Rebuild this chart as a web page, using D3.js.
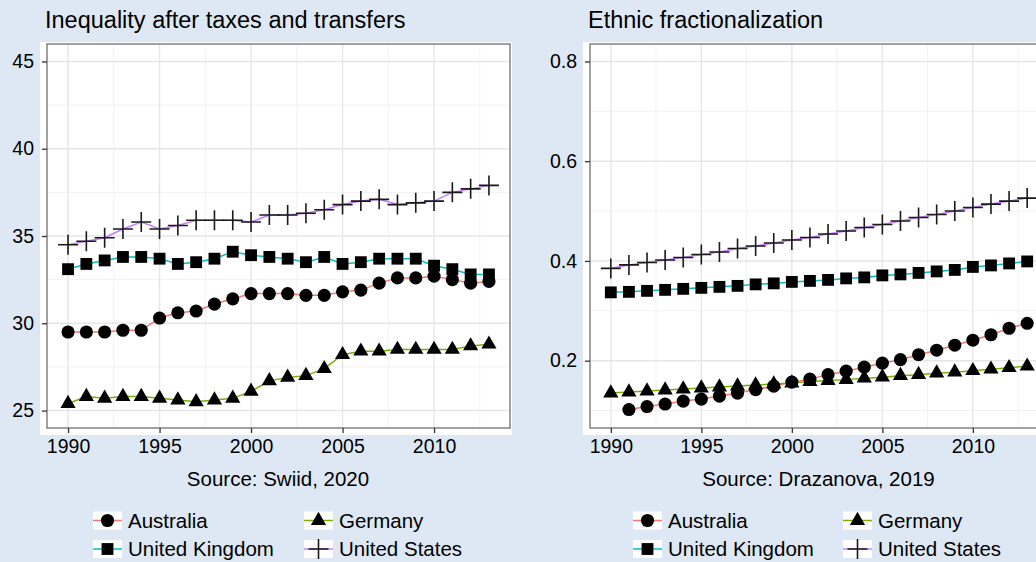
<!DOCTYPE html>
<html>
<head>
<meta charset="utf-8">
<script src="https://cdn.jsdelivr.net/npm/d3@7"></script>
<style>
  html, body { margin: 0; padding: 0; background: #dde8f4; }
  svg { display: block; font-family: "Liberation Sans", Arial, Helvetica, sans-serif; }
</style>
</head>
<body>
<svg id="chart" width="1036" height="562"></svg>
<script>
// ---------------- DATA ----------------
const years = [1990,1991,1992,1993,1994,1995,1996,1997,1998,1999,2000,2001,2002,2003,2004,2005,2006,2007,2008,2009,2010,2011,2012,2013];
const countries = ["Australia", "Germany", "United Kingdom", "United States"];

// Inequality after taxes and transfers (Gini, SWIID)
const ineqAustralia = [29.5,29.5,29.5,29.6,29.6,30.3,30.6,30.7,31.1,31.4,31.7,31.7,31.7,31.6,31.6,31.8,31.9,32.3,32.6,32.6,32.7,32.5,32.3,32.4];
const ineqGermany   = [25.4,25.8,25.7,25.8,25.8,25.7,25.6,25.5,25.6,25.7,26.1,26.7,26.9,27.0,27.4,28.2,28.4,28.4,28.5,28.5,28.5,28.5,28.7,28.8];
const ineqUK        = [33.1,33.4,33.6,33.8,33.8,33.7,33.4,33.5,33.7,34.1,33.9,33.8,33.7,33.5,33.8,33.4,33.5,33.7,33.7,33.7,33.3,33.1,32.8,32.8];
const ineqUS        = [34.5,34.7,34.9,35.4,35.8,35.4,35.6,35.9,35.9,35.9,35.8,36.2,36.2,36.3,36.5,36.8,37.0,37.1,36.8,36.9,37.0,37.5,37.7,37.9];

// Ethnic fractionalization (Drazanova)
const ethAustralia = [null,0.102,0.108,0.113,0.119,0.123,0.129,0.135,0.142,0.149,0.157,0.163,0.172,0.179,0.187,0.195,0.202,0.212,0.221,0.231,0.241,0.252,0.265,0.275];
const ethGermany   = [0.135,0.137,0.139,0.141,0.143,0.145,0.147,0.149,0.151,0.153,0.155,0.158,0.160,0.162,0.165,0.167,0.170,0.172,0.175,0.177,0.180,0.183,0.186,0.189];
const ethUK        = [0.337,0.338,0.340,0.342,0.344,0.346,0.348,0.350,0.353,0.355,0.358,0.360,0.362,0.365,0.367,0.371,0.373,0.376,0.379,0.382,0.388,0.391,0.395,0.399];
const ethUS        = [0.385,0.392,0.397,0.402,0.407,0.413,0.418,0.425,0.430,0.436,0.442,0.447,0.454,0.460,0.467,0.473,0.480,0.487,0.493,0.500,0.507,0.514,0.520,0.526];

const yearTicks = [1990,1995,2000,2005,2010];
const yearMinor = [1992.5,1997.5,2002.5,2007.5,2012.5];
const ineqTicks = [25,30,35,40,45];
const ineqMinor = [27.5,32.5,37.5,42.5];
const ethTicks  = [0.2,0.4,0.6,0.8];
const ethMinor  = [0.1,0.3,0.5,0.7];

const titles  = ["Inequality after taxes and transfers", "Ethnic fractionalization"];
const sources = ["Source: Swiid, 2020", "Source: Drazanova, 2019"];

// ---------------- STYLE ----------------
const lineColors = { "Australia": "#F8766D", "Germany": "#7CAE00", "United Kingdom": "#00BFC4", "United States": "#C77CFF" };

const plusSymbol = { draw(ctx, size) { const r = Math.sqrt(size) / 2; ctx.moveTo(-r, 0); ctx.lineTo(r, 0); ctx.moveTo(0, -r); ctx.lineTo(0, r); } };
const shapes = {
  "Australia":      { type: d3.symbolCircle,   size: 135, fill: "#000", stroke: "none" },
  "Germany":        { type: d3.symbolTriangle, size: 100, fill: "#000", stroke: "none" },
  "United Kingdom": { type: d3.symbolSquare,   size: 140, fill: "#000", stroke: "none" },
  "United States":  { type: plusSymbol,        size: 400, fill: "none", stroke: "#1a1a1a" }
};

const svg = d3.select("#chart");

const panels = [
  { series: { "Australia": ineqAustralia, "Germany": ineqGermany, "United Kingdom": ineqUK, "United States": ineqUS },
    yDomain: [24, 46], yTicks: ineqTicks, yMinor: ineqMinor, fmt: d3.format("d"),
    left: 47, right: 510, top: 44, bottom: 428, bgL: 40, bgR: 512,
    title: titles[0], source: sources[0], legendX: [128, 339] },
  { series: { "Australia": ethAustralia, "Germany": ethGermany, "United Kingdom": ethUK, "United States": ethUS },
    yDomain: [0.065, 0.835], yTicks: ethTicks, yMinor: ethMinor, fmt: d3.format(".1f"),
    left: 590, right: 1048, top: 44, bottom: 428, bgL: 583, bgR: 1050,
    title: titles[1], source: sources[1], legendX: [668, 878] }
];

panels.forEach(p => {
  const g = svg.append("g");
  const x = d3.scaleLinear().domain([1988.85, 2014.15]).range([p.left, p.right]);
  const y = d3.scaleLinear().domain(p.yDomain).range([p.bottom, p.top]);

  // white background
  g.append("rect").attr("x", p.bgL).attr("y", 42).attr("width", p.bgR - p.bgL).attr("height", 435 - 42).attr("fill", "#fff");

  // grid (minor then major)
  const grid = g.append("g");
  grid.selectAll(".ymin").data(p.yMinor).join("line")
    .attr("x1", p.left).attr("x2", p.right).attr("y1", d => y(d)).attr("y2", d => y(d))
    .attr("stroke", "#f2f2f2").attr("stroke-width", 1);
  grid.selectAll(".xmin").data(yearMinor).join("line")
    .attr("y1", p.top).attr("y2", p.bottom).attr("x1", d => x(d)).attr("x2", d => x(d))
    .attr("stroke", "#f2f2f2").attr("stroke-width", 1);
  grid.selectAll(".ymaj").data(p.yTicks).join("line")
    .attr("x1", p.left).attr("x2", p.right).attr("y1", d => y(d)).attr("y2", d => y(d))
    .attr("stroke", "#e6e6e6").attr("stroke-width", 1.4);
  grid.selectAll(".xmaj").data(yearTicks).join("line")
    .attr("y1", p.top).attr("y2", p.bottom).attr("x1", d => x(d)).attr("x2", d => x(d))
    .attr("stroke", "#e6e6e6").attr("stroke-width", 1.4);

  // lines
  const line = d3.line().defined(d => d.v != null).x(d => x(d.year)).y(d => y(d.v));
  countries.forEach(c => {
    const data = years.map((yr, i) => ({ year: yr, v: p.series[c][i] }));
    g.append("path").datum(data).attr("d", line)
      .attr("fill", "none").attr("stroke", lineColors[c]).attr("stroke-width", 1.5);
  });
  // points
  countries.forEach(c => {
    const data = years.map((yr, i) => ({ year: yr, v: p.series[c][i] })).filter(d => d.v != null);
    const s = shapes[c];
    g.selectAll(null).data(data).join("path")
      .attr("d", d3.symbol().type(s.type).size(s.size))
      .attr("transform", d => `translate(${x(d.year)},${y(d.v)})`)
      .attr("fill", s.fill).attr("stroke", s.stroke).attr("stroke-width", 1.6);
  });

  // border
  g.append("rect").attr("x", p.left).attr("y", p.top).attr("width", p.right - p.left).attr("height", p.bottom - p.top)
    .attr("fill", "none").attr("stroke", "#7a7a7a").attr("stroke-width", 1.4);

  // axes
  const ya = g.append("g").attr("transform", `translate(${p.left},0)`)
    .call(d3.axisLeft(y).tickValues(p.yTicks).tickFormat(p.fmt).tickSize(5).tickPadding(8));
  const xa = g.append("g").attr("transform", `translate(0,${p.bottom})`)
    .call(d3.axisBottom(x).tickValues(yearTicks).tickFormat(d3.format("d")).tickSize(5).tickPadding(6));
  [ya, xa].forEach(a => {
    a.select(".domain").remove();
    a.selectAll(".tick line").attr("stroke", "#333").attr("stroke-width", 1.3);
    a.selectAll(".tick text").attr("fill", "#000").style("font-size", "19.5px")
      .style("font-family", '"Liberation Sans", Arial, Helvetica, sans-serif');
  });

  // title
  g.append("text").attr("x", p.left - 2).attr("y", 27.5).text(p.title)
    .style("font-size", "23.5px").attr("fill", "#000");
  // source
  g.append("text").attr("x", (p.left + p.right) / 2 - 0.5).attr("y", 486).attr("text-anchor", "middle")
    .text(p.source).style("font-size", "20.5px").attr("fill", "#000");

  // legend
  const rows = [520.5, 549];
  countries.forEach((c, i) => {
    const col = i % 2, row = Math.floor(i / 2);
    const tx = p.legendX[col], cy = rows[row];
    const kg = g.append("g");
    kg.append("rect").attr("x", tx - 35).attr("y", cy - 9).attr("width", 29).attr("height", 18).attr("fill", "#fff");
    kg.append("line").attr("x1", tx - 35).attr("x2", tx - 6).attr("y1", cy).attr("y2", cy)
      .attr("stroke", lineColors[c]).attr("stroke-width", 1.5);
    const s = shapes[c];
    kg.append("path").attr("d", d3.symbol().type(s.type).size(s.size))
      .attr("transform", `translate(${tx - 20.5},${cy})`)
      .attr("fill", s.fill).attr("stroke", s.stroke).attr("stroke-width", 1.6);
    kg.append("text").attr("x", tx).attr("y", cy).attr("dy", "0.36em").text(c)
      .style("font-size", "20.5px").attr("fill", "#000");
  });
});
</script>
</body>
</html>
